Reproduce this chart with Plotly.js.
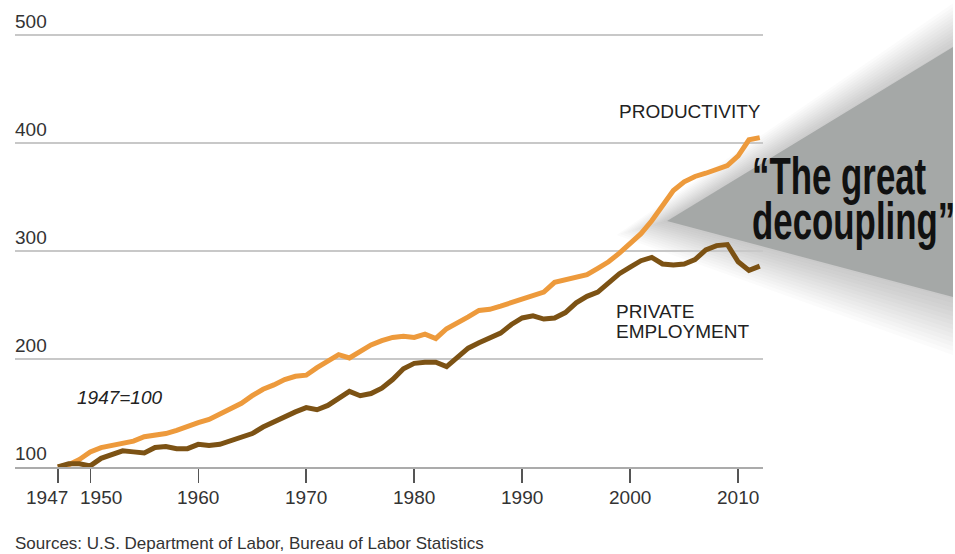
<!DOCTYPE html>
<html>
<head>
<meta charset="utf-8">
<script src="https://cdn.plot.ly/plotly-3.0.1.min.js"></script>
<style>
  html, body { margin: 0; padding: 0; background: #ffffff; }
  #chart { width: 955px; height: 554px; }
</style>
</head>
<body>
<div id="chart"></div>
<script>
// ---- data (index, 1947 = 100) ----
const years = [1947,1948,1949,1950,1951,1952,1953,1954,1955,1956,1957,1958,1959,1960,
  1961,1962,1963,1964,1965,1966,1967,1968,1969,1970,1971,1972,1973,1974,1975,1976,1977,
  1978,1979,1980,1981,1982,1983,1984,1985,1986,1987,1988,1989,1990,1991,1992,1993,1994,
  1995,1996,1997,1998,1999,2000,2001,2002,2003,2004,2005,2006,2007,2008,2009,2010,2011,2012];

const productivity = [100,102,107,114,118,120,122,124,128,129,131,134,138,141,
  144,149,154,159,166,172,176,181,184,185,192,198,204,201,207,213,217,
  220,221,220,223,219,228,233,239,245,246,249,252,255,258,262,271,273,
  275,278,284,290,298,307,316,328,343,356,364,369,372,375,379,388,403,405];

const employment = [100,103,103,101,108,111,115,114,113,118,119,117,117,121,
  120,121,124,127,131,137,142,147,151,155,153,157,164,170,166,168,173,
  181,191,196,197,197,193,202,210,215,219,224,232,238,240,237,238,243,
  252,258,262,270,279,285,291,294,288,287,288,292,301,305,306,290,282,286];

const xTickVals = [1947,1950,1960,1970,1980,1990,2000,2010];
const xTickText = ['1947','1950','1960','1970','1980','1990','2000','2010'];
const yTickVals = [100,200,300,400,500];
const yTickText = ['100','200','300','400','500'];

const seriesNames = ['PRODUCTIVITY', 'PRIVATE', 'EMPLOYMENT'];
const baseNote = '1947=100';
const calloutLines = ['\u201CThe great', 'decoupling\u201D'];
const sourceNote = 'Sources: U.S. Department of Labor, Bureau of Labor Statistics';

// ---- layout geometry (pixels of the 955x554 page) ----
const W = 955, H = 554;
const M = {l: 15, r: 192, t: 8, b: 87};
const plotW = W - M.l - M.r, plotH = H - M.t - M.b;
const px = x => (x - M.l) / plotW;          // page px -> paper x
const py = y => (H - M.b - y) / plotH;      // page px -> paper y

const textFont = 'Liberation Sans, Arial, Helvetica, sans-serif';
const boldFont = 'Liberation Sans, Arial, sans-serif';

const traces = [
  {x: years, y: productivity, type: 'scatter', mode: 'lines',
   line: {color: '#ED9A3C', width: 5}, hoverinfo: 'skip'},
  {x: years, y: employment, type: 'scatter', mode: 'lines',
   line: {color: '#7C5214', width: 5}, hoverinfo: 'skip'}
];

// callout triangle + soft shadow
const tip = [667, 221], topR = [953, 47], botR = [953, 297];
const shapes = [];
const nShadow = 14;
for (let k = nShadow; k >= 1; k--) {
  const d = k * 4;
  const p = `M ${px(tip[0] - d * 0.9)} ${py(tip[1] + d * 0.25)} ` +
            `L ${px(topR[0] + 10)} ${py(topR[1] - d * 0.9)} ` +
            `L ${px(botR[0] + 10)} ${py(botR[1] + d * 1.1)} Z`;
  shapes.push({type: 'path', xref: 'paper', yref: 'paper', path: p,
    fillcolor: 'rgba(70,70,70,0.022)', line: {width: 0}, layer: 'below'});
}
shapes.push({type: 'path', xref: 'paper', yref: 'paper',
  path: `M ${px(tip[0])} ${py(tip[1])} L ${px(topR[0])} ${py(topR[1])} L ${px(botR[0])} ${py(botR[1])} Z`,
  fillcolor: '#A5A8A7', line: {width: 0}, layer: 'above'});
// white strip at far right edge
shapes.push({type: 'rect', xref: 'paper', yref: 'paper',
  x0: px(953), x1: px(960), y0: py(0), y1: py(554),
  fillcolor: '#ffffff', line: {width: 0}, layer: 'above'});

// x tick labels (first two nudged apart as in the original)
const xLabelShift = v => (v === 1947 ? -11 : (v === 1950 ? 11 : 0));
const xLabelAnns = xTickVals.map((v, i) => ({
  xref: 'x', yref: 'paper', x: v, y: py(497), xshift: xLabelShift(v),
  xanchor: 'center', yanchor: 'middle', text: xTickText[i], showarrow: false,
  font: {family: textFont, size: 19, color: '#333'}
}));

const annotations = xLabelAnns.concat([
  {xref: 'paper', yref: 'paper', x: px(763), y: py(111), xanchor: 'right', yanchor: 'middle',
   text: seriesNames[0], showarrow: false, font: {family: textFont, size: 19, color: '#222'}},
  {xref: 'paper', yref: 'paper', x: px(614), y: py(311), xanchor: 'left', yanchor: 'middle',
   text: seriesNames[1], showarrow: false, font: {family: textFont, size: 19, color: '#222'}},
  {xref: 'paper', yref: 'paper', x: px(614), y: py(332), xanchor: 'left', yanchor: 'middle',
   text: seriesNames[2], showarrow: false, font: {family: textFont, size: 19, color: '#222'}},
  {xref: 'paper', yref: 'paper', x: px(75), y: py(397), xanchor: 'left', yanchor: 'middle',
   text: '<i>' + baseNote + '</i>', showarrow: false, font: {family: textFont, size: 19, color: '#222'}},
  {xref: 'paper', yref: 'paper', x: px(13), y: py(543), xanchor: 'left', yanchor: 'middle',
   text: sourceNote, showarrow: false, font: {family: textFont, size: 17, color: '#333'}},
  {xref: 'paper', yref: 'paper', x: px(750), y: py(176), xanchor: 'left', yanchor: 'middle',
   text: '<b>' + calloutLines[0] + '</b>', showarrow: false,
   font: {family: boldFont, size: 52, color: '#111'}},
  {xref: 'paper', yref: 'paper', x: px(750), y: py(221), xanchor: 'left', yanchor: 'middle',
   text: '<b>' + calloutLines[1] + '</b>', showarrow: false,
   font: {family: boldFont, size: 52, color: '#111'}}
]);

const layout = {
  width: W, height: H,
  margin: M,
  paper_bgcolor: '#ffffff', plot_bgcolor: '#ffffff',
  showlegend: false,
  xaxis: {
    range: [1943.03, 2012.3], tickmode: 'array', tickvals: xTickVals, showticklabels: false,
    showgrid: false, zeroline: false, showline: true, linecolor: '#ababab', linewidth: 2,
    ticks: 'outside', ticklen: 14, tickwidth: 1.5, tickcolor: '#555', fixedrange: true
  },
  yaxis: {
    range: [100, 525], tickmode: 'array', tickvals: yTickVals, ticktext: yTickText,
    showgrid: true, gridcolor: '#c8c8c8', gridwidth: 1.5, zeroline: false, showline: false,
    ticks: '', ticklabelposition: 'inside top', ticklabelstandoff: -3,
    tickfont: {family: textFont, size: 19, color: '#333'}, fixedrange: true
  },
  shapes: shapes,
  annotations: annotations
};

Plotly.newPlot('chart', traces, layout, {staticPlot: true, displayModeBar: false}).then(gd => {
  // squeeze the callout lettering horizontally to mimic a condensed face
  gd.querySelectorAll('.annotation-text').forEach(el => {
    const t = el.textContent;
    if (t.indexOf('The great') >= 0 || t.indexOf('decoupling') >= 0) {
      el.style.transformBox = 'fill-box';
      el.style.transformOrigin = 'left center';
      el.style.transform = 'scaleX(0.67)';
    }
  });
});
</script>
</body>
</html>
